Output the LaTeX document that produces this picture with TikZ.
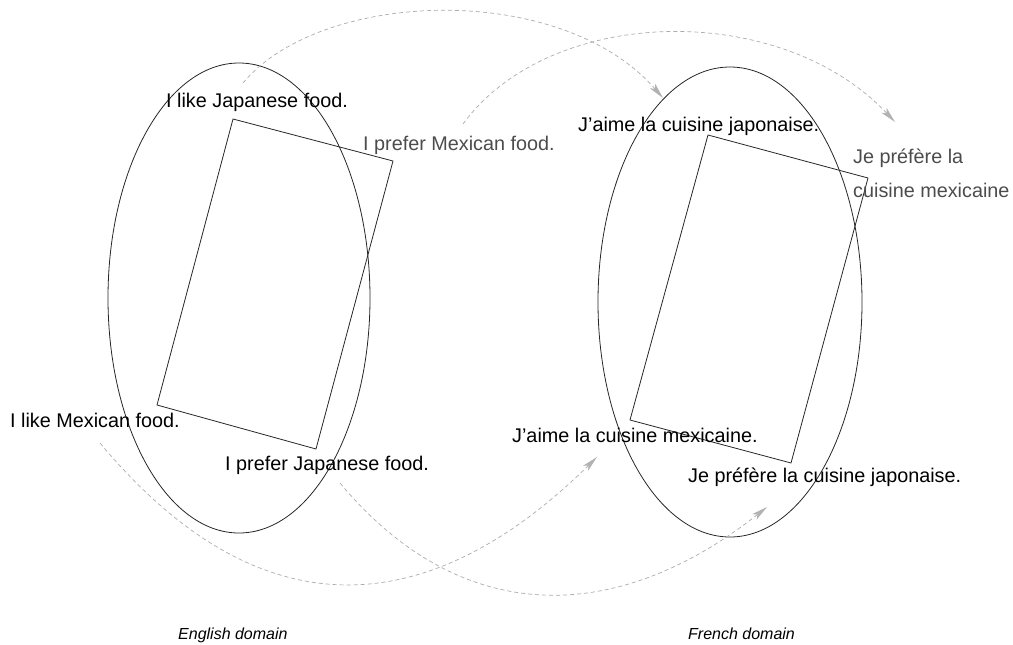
\documentclass[tikz,border=0pt]{standalone}
\usepackage{fontspec}
\setmainfont{Liberation Sans}
\usetikzlibrary{arrows.meta}
\begin{document}
\begin{tikzpicture}[x=1pt,y=-1pt,
  lbl/.style={anchor=base west, inner sep=0pt, font=\fontsize{19.8}{22}\selectfont},
  soft/.style={text=black!70},
  caption/.style={anchor=base west, inner sep=0pt, font=\fontsize{16}{18}\selectfont\itshape},
  field/.style={draw=black!85, line width=0.8pt},
  pair/.style={draw=gray!65, line width=0.7pt, dash pattern=on 4pt off 3pt,
    -{Stealth[length=16pt,width=7pt,inset=4pt,fill=gray!60,color=gray!60]}}]
\useasboundingbox (0,0) rectangle (1013,645);

% the two domains
\draw[field] (239,298) ellipse [x radius=131, y radius=235];
\draw[field] (730,302) ellipse [x radius=132, y radius=235];

% sentence fields inside each domain
\coordinate (e1) at (233,119);
\coordinate (e2) at (393,161);
\coordinate (e3) at (316,449);
\coordinate (e4) at (157,405);
\draw[field] (e1) -- (e2) -- (e3) -- (e4) -- cycle;
\coordinate (f1) at (708,135);
\coordinate (f2) at (868,178);
\coordinate (f3) at (791,463);
\coordinate (f4) at (630,420);
\draw[field] (f1) -- (f2) -- (f3) -- (f4) -- cycle;

% English sentences
\node[lbl] (enJ) at (166,107) {I like Japanese food.};
\node[lbl,soft] (enPM) at (363,150) {I prefer Mexican food.};
\node[lbl] (enM) at (10,427) {I like Mexican food.};
\node[lbl] (enPJ) at (225,470) {I prefer Japanese food.};

% French sentences
\node[lbl] (frJ) at (578,131) {J’aime la cuisine japonaise.};
\node[lbl,soft] (frPMa) at (853,163) {Je préfère la};
\node[lbl,soft] (frPMb) at (853,197) {cuisine mexicaine};
\node[lbl] (frM) at (512,442) {J’aime la cuisine mexicaine.};
\node[lbl] (frPJ) at (688,482) {Je préfère la cuisine japonaise.};

% domain captions
\node[caption] (enDom) at (178,639) {English domain};
\node[caption] (frDom) at (688,639) {French domain};

% translation links
\coordinate (sJ)  at (243,83);
\coordinate (tJ)  at (663,98);
\coordinate (sPM) at (463,124);
\coordinate (tPM) at (895,122);
\coordinate (sM)  at (100,443);
\coordinate (tM)  at (597,457);
\coordinate (sPJ) at (340,483);
\coordinate (tPJ) at (767,507);

\draw[pair] (sJ) .. controls (320,-10) and (560,-20) .. (tJ);
\draw[pair] (sPM) .. controls (550,5) and (780,0) .. (tPM);
\draw[pair] (sM) .. controls (270,647) and (442,610) .. (tM);
\draw[pair] (sPJ) .. controls (460,627) and (615,627) .. (tPJ);
\end{tikzpicture}
\end{document}
